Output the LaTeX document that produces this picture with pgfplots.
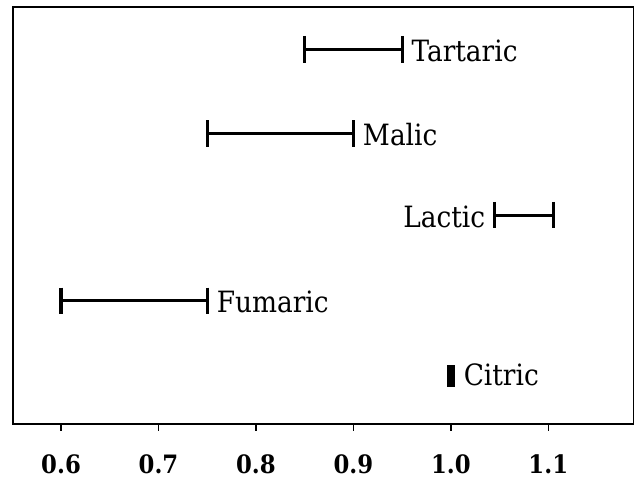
\documentclass[border=0pt]{standalone}
\usepackage{pgfplots}
\pgfplotsset{compat=1.18}
\usepackage{fontspec}
\setmainfont{DejaVu Serif Condensed}
\tikzset{lbl/.style={font=\fontsize{22}{24}\selectfont, inner sep=0pt}}
\newcommand{\tl}[1]{{\fontsize{19}{21}\selectfont\bfseries #1}}
\begin{document}
\begin{tikzpicture}
\begin{axis}[
  scale only axis,
  width=465.4pt, height=312.5pt,
  xmin=0.5507, xmax=1.1874,
  ymin=0.413, ymax=5.514,
  axis line style={line width=1.4pt},
  xtick={0.6,0.7,0.8,0.9,1.0,1.1},
  xticklabels={\tl{0.6},\tl{0.7},\tl{0.8},\tl{0.9},\tl{1.0},\tl{1.1}},
  xtick pos=bottom, tick align=outside,
  major tick length=5pt,
  xtick style={line width=1.2pt, black},
  ytick=\empty,
  xticklabel style={anchor=north, inner sep=0pt, yshift=-17.5pt},
  clip=false,
]
% intervals
\addplot[black, line width=2.4pt, mark=|, mark size=10pt, mark options={line width=2.4pt}] coordinates {(0.85,5) (0.95,5)};
\addplot[black, line width=2.4pt, mark=|, mark size=10pt, mark options={line width=2.4pt}] coordinates {(0.75,3.97) (0.90,3.97)};
\addplot[black, line width=2.4pt, mark=|, mark size=10pt, mark options={line width=2.4pt}] coordinates {(1.045,2.97) (1.105,2.97)};
\addplot[black, line width=2.4pt, mark=|, mark size=10pt, mark options={line width=2.4pt}] coordinates {(0.60,1.92) (0.75,1.92)};
\addplot[black, only marks, mark=|, mark size=8.25pt, mark options={line width=5.7pt}] coordinates {(1.0,1.0)};
% labels
\node[lbl, anchor=base west, xshift=7pt, yshift=-9pt] at (axis cs:0.95,5) {Tartaric};
\node[lbl, anchor=base west, xshift=7pt, yshift=-9pt] at (axis cs:0.90,3.97) {Malic};
\node[lbl, anchor=base east, xshift=-7pt, yshift=-9pt] at (axis cs:1.045,2.97) {Lactic};
\node[lbl, anchor=base west, xshift=7pt, yshift=-9pt] at (axis cs:0.75,1.92) {Fumaric};
\node[lbl, anchor=base west, xshift=9.5pt, yshift=-7pt] at (axis cs:1.0,1.0) {Citric};
\end{axis}
\pgfresetboundingbox
\path[use as bounding box] ([shift={(-9.75pt,-40.5pt)}]current axis.south west) rectangle ([shift={(1.9pt,5.5pt)}]current axis.north east);
\end{tikzpicture}
\end{document}
